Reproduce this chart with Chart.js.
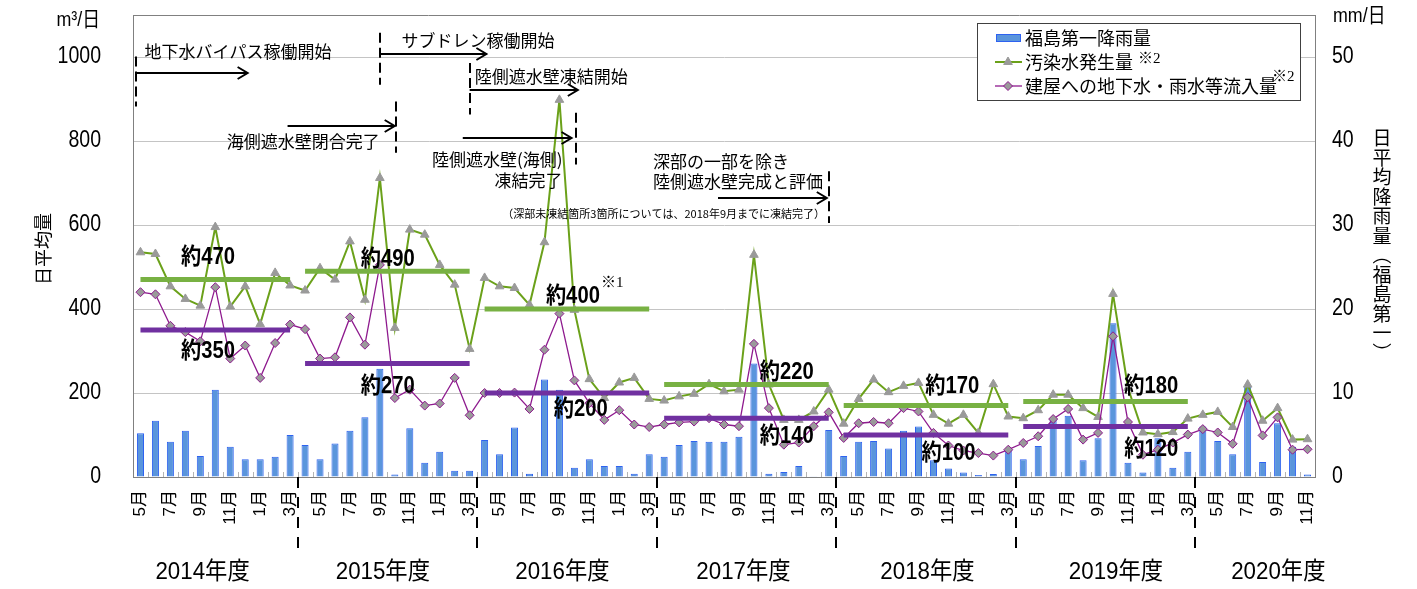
<!DOCTYPE html>
<html>
<head>
<meta charset="utf-8">
<script src="https://cdn.jsdelivr.net/npm/chart.js@4.4.1/dist/chart.umd.min.js"></script>
<style>
html, body { margin: 0; padding: 0; background: #fff; }
#wrap { width: 1417px; height: 589px; }
</style>
</head>
<body>
<div id="wrap"><canvas id="chart" width="1417" height="589"></canvas></div>
<script>
/*******************  Data *********************/
// months, May 2014 .. Nov 2020 (fiscal year starts in April)
const months = [
  5, 6, 7, 8, 9, 10, 11, 12, 1, 2, 3,            // 2014
  4, 5, 6, 7, 8, 9, 10, 11, 12, 1, 2, 3,         // 2015
  4, 5, 6, 7, 8, 9, 10, 11, 12, 1, 2, 3,         // 2016
  4, 5, 6, 7, 8, 9, 10, 11, 12, 1, 2, 3,         // 2017
  4, 5, 6, 7, 8, 9, 10, 11, 12, 1, 2, 3,         // 2018
  4, 5, 6, 7, 8, 9, 10, 11, 12, 1, 2, 3,         // 2019
  4, 5, 6, 7, 8, 9, 10, 11                       // 2020
];

// 福島第一降雨量 (mm/日)
const rain = [
  5.2, 6.7, 4.2, 5.5, 2.5, 10.4, 3.6, 2.1, 2.1, 2.4, 5.0,
  3.8, 2.1, 4.0, 5.5, 7.1, 12.9, 0.3, 5.8, 1.7, 3.0, 0.75, 0.75,
  4.4, 2.7, 5.9, 0.4, 11.6, 10.4, 1.1, 2.1, 1.3, 1.3, 0.4, 2.7,
  2.4, 3.8, 4.3, 4.2, 4.2, 4.8, 13.5, 0.4, 0.6, 1.3, 0.1, 5.6,
  2.5, 4.2, 4.3, 3.4, 5.5, 6.0, 2.0, 1.0, 0.55, 0.25, 0.35, 3.2,
  2.1, 3.7, 7.0, 7.3, 2.0, 4.6, 18.3, 1.7, 0.55, 4.6, 1.1, 3.0,
  6.0, 4.3, 2.7, 10.8, 1.8, 6.4, 3.6, 0.3
];

// 汚染水発生量 (m3/日)
const generated = [
  535, 531, 454, 424, 408, 595, 406, 454, 364, 486, 456,
  444, 497, 470, 561, 422, 712, 355, 589, 577, 505, 458, 305,
  474, 454, 450, 410, 559, 898, 398, 233, 188, 225, 236, 186,
  182, 192, 198, 221, 204, 208, 529, 220, 136, 136, 156, 208,
  127, 186, 232, 202, 217, 224, 148, 127, 148, 105, 221, 144,
  140, 159, 196, 196, 164, 143, 436, 212, 106, 102, 107, 139,
  148, 155, 119, 220, 134, 164, 89, 90
];

// 建屋への地下水・雨水等流入量 (m3/日)
const inflow = [
  440, 435, 360, 345, 323, 452, 282, 313, 236, 319, 363,
  352, 282, 285, 380, 315, 505, 188, 208, 170, 175, 236, 147,
  200, 200, 201, 162, 303, 389, 230, 176, 136, 159, 125, 119,
  125, 130, 132, 140, 125, 121, 317, 164, 77, 82, 121, 154,
  93, 128, 131, 128, 164, 156, 105, 75, 63, 57, 51, 65,
  81, 97, 138, 162, 89, 105, 335, 131, 53, 65, 82, 101,
  114, 106, 79, 190, 99, 142, 65, 66
];

const fiscalYears = ['2014年度', '2015年度', '2016年度', '2017年度', '2018年度', '2019年度', '2020年度'];
// fiscal-year averages (2014..2019)
const avgGenerated = [470, 490, 400, 220, 170, 180];
const avgInflow = [350, 270, 200, 140, 100, 120];

/*******************  Helpers *********************/
const SANS = "'Liberation Sans', 'Noto Sans CJK JP', sans-serif";
const JP = "'Noto Sans CJK JP', sans-serif";
const SERIF = "'Liberation Serif', 'Noto Sans CJK JP', serif";

// fiscal year index of every month
const fyOf = [];
let fy = 0;
months.forEach((m, i) => {
  if (m === 4 && i > 0) fy++;
  fyOf.push(fy);
});

function avgSeries(values, k) {
  return months.map((m, i) => fyOf[i] === k ? values[k] : null);
}

const avgSets = [];
avgGenerated.forEach((v, k) => {
  avgSets.push({ type: 'line', data: avgSeries(avgGenerated, k), yAxisID: 'y', borderColor: '#78b143',
    borderWidth: 5, pointRadius: 0, borderCapStyle: 'butt', order: 1 });
});
avgInflow.forEach((v, k) => {
  avgSets.push({ type: 'line', data: avgSeries(avgInflow, k), yAxisID: 'y', borderColor: '#7030a0',
    borderWidth: 5, pointRadius: 0, borderCapStyle: 'butt', order: 1 });
});

const px = (chart, i) => chart.scales.x.getPixelForValue(i);
const py = (chart, v) => chart.scales.y.getPixelForValue(v);

// text, optionally squeezed horizontally by sx
function text(ctx, s, x, y, font, align, sx) {
  ctx.save();
  ctx.font = font;
  ctx.textAlign = align || 'left';
  ctx.textBaseline = 'middle';
  ctx.translate(x, y);
  ctx.scale(sx || 1, 1);
  ctx.fillText(s, 0, 0);
  ctx.restore();
}

function arrow(ctx, x1, x2, y) {
  ctx.beginPath();
  ctx.moveTo(x1, y); ctx.lineTo(x2, y);
  ctx.moveTo(x2 - 10, y - 6); ctx.lineTo(x2, y); ctx.lineTo(x2 - 10, y + 6);
  ctx.stroke();
}

function dashed(ctx, x, y1, y2, pattern) {
  ctx.save();
  ctx.setLineDash(pattern || [10, 5]);
  ctx.beginPath(); ctx.moveTo(x, y1); ctx.lineTo(x, y2); ctx.stroke();
  ctx.restore();
}

function noPad(s) {
  s.paddingTop = 0; s.paddingBottom = 0; s.paddingLeft = 0; s.paddingRight = 0;
}

/******** event notes: index / value positions on the axes ********/
const events = [
  { lines: ['地下水バイパス稼働開始'], tx: 0.27, ty: [1012], align: 'left', dash: [-0.33, 1001, 882], arrow: [-0.33, 7.16, 963] },
  { lines: ['サブドレン稼働開始'], tx: 17.44, ty: [1040], align: 'left', dash: [16.03, 1058, 934], arrow: [16.03, 23.12, 1008] },
  { lines: ['陸側遮水壁凍結開始'], tx: 22.34, ty: [954], align: 'left', dash: [22.0, 986, 863], arrow: [22.0, 29.23, 922] },
  { lines: ['海側遮水壁閉合完了'], tx: 15.99, ty: [799], align: 'right', dash: [17.06, 894, 772], arrow: [9.83, 16.99, 836] },
  { lines: ['陸側遮水壁(海側)', '凍結完了'], tx: 28.2, ty: [755, 706], align: 'right', dash: [29.1, 867, 744], arrow: [21.54, 28.81, 807] },
  { lines: ['深部の一部を除き', '陸側遮水壁完成と評価'], tx: 34.25, ty: [751, 704], align: 'left', dash: [46.02, 728, 605], arrow: [38.6, 45.87, 664] }
];

// "約xxx" labels: [genIndex, genValue, inIndex, inValue]
const avgLabelPos = [
  [4.52, 522, 4.52, 299], [16.52, 517, 16.52, 215], [28.9, 429, 29.43, 160],
  [43.2, 249, 43.2, 96], [54.25, 215, 54.0, 55], [67.56, 215, 67.56, 64]
];
const fyLabelPos = [4.15, 16.2, 28.2, 40.3, 52.6, 65.2, 76.05];

/*******************  Decorations plugin *********************/
const decor = {
  id: 'decor',
  beforeDatasetsDraw(chart) {
    const { ctx, chartArea: a } = chart;
    ctx.save();
    ctx.strokeStyle = '#808080';
    ctx.lineWidth = 1;
    ctx.beginPath(); ctx.moveTo(a.left, a.top + 0.5); ctx.lineTo(a.right, a.top + 0.5); ctx.stroke();
    // small ticks between months
    ctx.strokeStyle = '#b4b4b4';
    for (let i = 0; i < months.length - 1; i++) {
      const x = Math.round(px(chart, i + 0.5)) + 0.5;
      ctx.beginPath(); ctx.moveTo(x, a.bottom); ctx.lineTo(x, a.bottom - 5); ctx.stroke();
    }
    ctx.restore();
  },
  afterDraw(chart) {
    const { ctx, chartArea: a } = chart;
    ctx.save();
    ctx.fillStyle = '#000';
    ctx.strokeStyle = '#000';

    // value axis labels
    chart.scales.y.ticks.forEach(t => {
      text(ctx, String(t.value), a.left - 32, py(chart, t.value), '23px ' + SANS, 'right', 0.85);
    });
    chart.scales.y1.ticks.forEach(t => {
      text(ctx, String(t.value), a.right + 17, chart.scales.y1.getPixelForValue(t.value), '23px ' + SANS, 'left', 0.85);
    });

    // month labels, every other month, rotated
    months.forEach((m, i) => {
      if (i % 2 !== 0) return;
      ctx.save();
      ctx.translate(px(chart, i), a.bottom + 13);
      ctx.rotate(-Math.PI / 2);
      ctx.font = '17px ' + SANS;
      ctx.textAlign = 'right';
      ctx.textBaseline = 'middle';
      ctx.fillText(m + '月', 0, 0);
      ctx.restore();
    });

    // fiscal year separators below the axis
    ctx.lineWidth = 2;
    months.forEach((m, i) => {
      if (m === 3 && i < months.length - 1) {
        const x = Math.round(px(chart, i + 0.5));
        dashed(ctx, x, a.bottom, a.bottom + 74, [11, 9]);
      }
    });
    fiscalYears.forEach((s, k) => {
      text(ctx, s, px(chart, fyLabelPos[k]), 572, '24px ' + SANS, 'center', 0.93);
    });

    // event notes
    ctx.lineWidth = 2;
    events.forEach(ev => {
      ev.lines.forEach((s, j) => text(ctx, s, px(chart, ev.tx), py(chart, ev.ty[j]), '17px ' + JP, ev.align));
      dashed(ctx, Math.round(px(chart, ev.dash[0])), py(chart, ev.dash[1]), py(chart, ev.dash[2]), [10, 5]);
      arrow(ctx, px(chart, ev.arrow[0]), px(chart, ev.arrow[1]), Math.round(py(chart, ev.arrow[2])));
    });
    text(ctx, '（深部未凍結箇所3箇所については、2018年9月までに凍結完了）', px(chart, 45.75), py(chart, 626), '11px ' + JP, 'right');

    // average labels
    avgLabelPos.forEach((p, k) => {
      const f = 'bold 23px ' + SANS;
      text(ctx, '約' + avgGenerated[k], px(chart, p[0]), py(chart, p[1]), f, 'center', 0.88);
      text(ctx, '約' + avgInflow[k], px(chart, p[2]), py(chart, p[3]), f, 'center', 0.88);
      if (k === 2) {
        ctx.font = f;
        const w = ctx.measureText('約' + avgGenerated[k]).width * 0.88;
        text(ctx, '※1', px(chart, p[0]) + w / 2 + 1, py(chart, p[1]) - 14, '15px ' + SERIF, 'left');
      }
    });

    // axis units and titles
    text(ctx, 'm³/日', a.left - 33, 20, '21px ' + SANS, 'right', 0.85);
    text(ctx, 'mm/日', a.right + 18, 16, '21px ' + SANS, 'left', 0.85);
    ctx.save();
    ctx.translate(43, 249);
    ctx.rotate(-Math.PI / 2);
    text(ctx, '日平均量', 0, 0, '18px ' + JP, 'center');
    ctx.restore();
    const vt = ['日', '平', '均', '降', '雨', '量', '︵', '福', '島', '第', '一', '︶'];
    vt.forEach((c, j) => text(ctx, c, 1382, 138 + j * 19.5, '19px ' + JP, 'center'));

    // legend box
    const lx = a.right - 338, ly = a.top + 8, lw = 323, lh = 77;
    ctx.fillStyle = '#fff';
    ctx.fillRect(lx, ly, lw, lh);
    ctx.strokeStyle = '#404040';
    ctx.lineWidth = 1;
    ctx.strokeRect(lx + 0.5, ly + 0.5, lw, lh);
    const rows = [ly + 15, ly + 39, ly + 63];
    const ds = chart.data.datasets;
    // bar swatch
    ctx.fillStyle = ds[0].backgroundColor;
    ctx.fillRect(lx + 19, rows[0] - 4, 25, 8);
    ctx.strokeStyle = ds[0].borderColor;
    ctx.strokeRect(lx + 19.5, rows[0] - 3.5, 24, 7);
    // line swatches
    [1, 2].forEach((d, j) => {
      const y = rows[j + 1];
      ctx.strokeStyle = ds[d].borderColor;
      ctx.lineWidth = ds[d].borderWidth;
      ctx.beginPath(); ctx.moveTo(lx + 18, y); ctx.lineTo(lx + 45, y); ctx.stroke();
      ctx.fillStyle = ds[d].pointBackgroundColor;
      ctx.strokeStyle = ds[d].pointBorderColor;
      ctx.lineWidth = ds[d].pointBorderWidth;
      Chart.helpers.drawPoint(ctx, {
        pointStyle: ds[d].pointStyle, radius: ds[d].pointRadius, borderWidth: ds[d].pointBorderWidth, rotation: 0
      }, lx + 31, y);
    });
    ctx.fillStyle = '#000';
    text(ctx, '福島第一降雨量', lx + 48, rows[0], '18px ' + JP);
    text(ctx, '汚染水発生量', lx + 48, rows[1], '18px ' + JP);
    text(ctx, '※2', lx + 161, rows[1] - 3, '15px ' + SERIF);
    text(ctx, '建屋への地下水・雨水等流入量', lx + 48, rows[2], '18px ' + JP);
    text(ctx, '※2', lx + 295, rows[2] - 9, '15px ' + SERIF);
    ctx.restore();
  }
};

/*******************  Chart *********************/
const chart = new Chart(document.getElementById('chart'), {
  data: {
    labels: months.map(m => m + '月'),
    datasets: [
      { type: 'bar', label: '福島第一降雨量', data: rain, yAxisID: 'y1',
        backgroundColor: '#5a95dc', borderColor: '#2e62f0', borderWidth: 1,
        barPercentage: 0.47, categoryPercentage: 1, order: 5 },
      { type: 'line', label: '汚染水発生量', data: generated, yAxisID: 'y',
        borderColor: '#6ba11a', borderWidth: 2, pointStyle: 'triangle', pointRadius: 5,
        pointBackgroundColor: '#9a9a9a', pointBorderColor: '#9a9a9a', pointBorderWidth: 1, order: 4 },
      { type: 'line', label: '建屋への地下水・雨水等流入量', data: inflow, yAxisID: 'y',
        borderColor: '#8e1a8e', borderWidth: 1.3, pointStyle: 'rectRot', pointRadius: 4.5,
        pointBackgroundColor: '#9a9a9a', pointBorderColor: '#8e1a8e', pointBorderWidth: 1, order: 3 },
      ...avgSets
    ]
  },
  options: {
    responsive: false,
    animation: false,
    layout: { padding: { top: 15, left: 0, right: 0, bottom: 0 } },
    plugins: { legend: { display: false }, tooltip: { enabled: false } },
    scales: {
      x: {
        offset: true,
        grid: { display: false },
        border: { display: true, color: '#808080', width: 1 },
        ticks: { display: false },
        afterFit: s => { s.height = 112; noPad(s); }
      },
      y: {
        position: 'left', min: 0, max: 1100,
        ticks: { display: false, stepSize: 200 },
        grid: { color: '#c4c4c4', drawTicks: false },
        border: { display: true, color: '#808080' },
        afterBuildTicks: s => { s.ticks = s.ticks.filter(t => t.value <= 1000); },
        afterFit: s => { s.width = 133; noPad(s); }
      },
      y1: {
        position: 'right', min: 0, max: 55,
        ticks: { display: false, stepSize: 10 },
        grid: { drawOnChartArea: false, drawTicks: false },
        border: { display: true, color: '#808080' },
        afterBuildTicks: s => { s.ticks = s.ticks.filter(t => t.value <= 50); },
        afterFit: s => { s.width = 102; noPad(s); }
      }
    }
  },
  plugins: [decor]
});
</script>
</body>
</html>
